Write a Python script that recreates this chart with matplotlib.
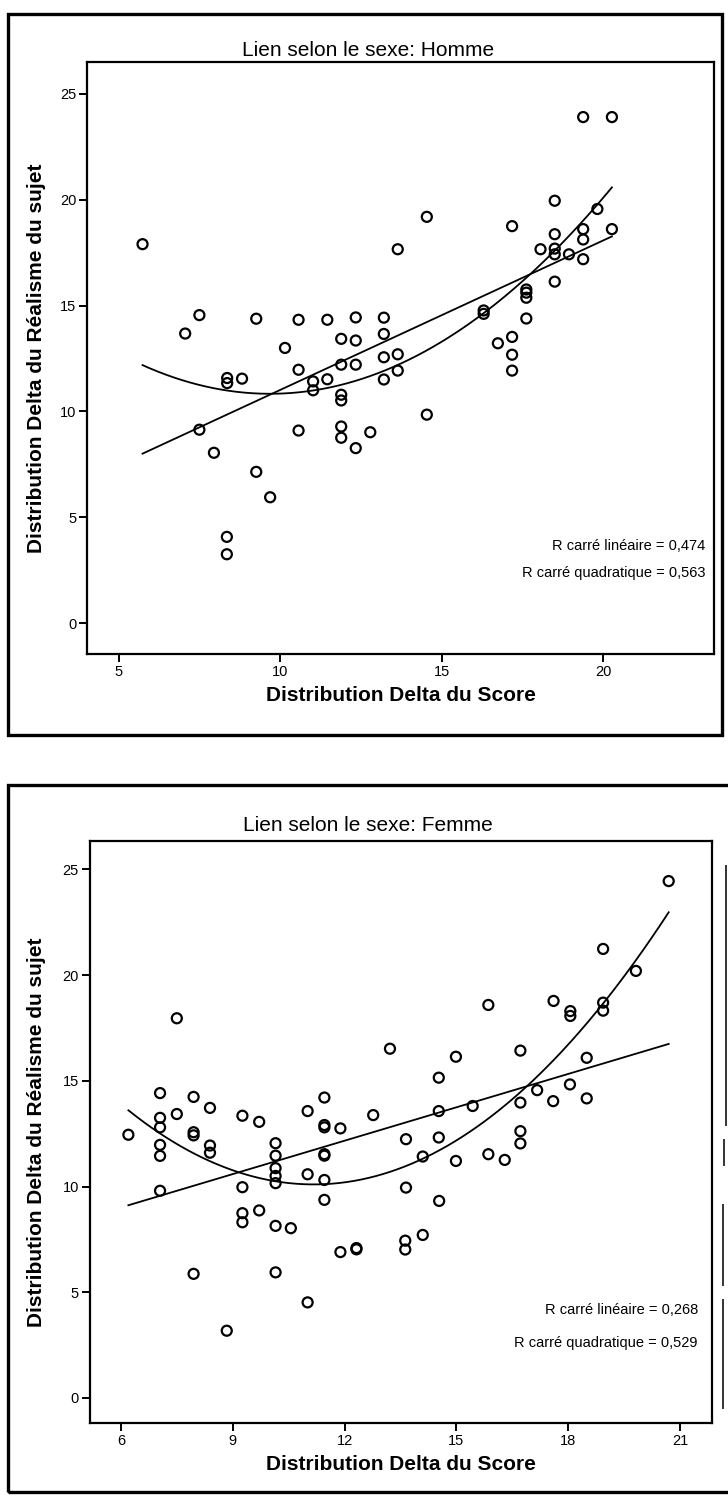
import numpy as np
import matplotlib
matplotlib.use("Agg")
import matplotlib.pyplot as plt
from matplotlib.patches import Rectangle
from matplotlib.lines import Line2D

plt.rcParams['font.family'] = ['Liberation Sans', 'DejaVu Sans']

# ---- data: men ----
homme_score = [5.74, 7.06, 7.50, 7.50, 7.95, 8.36, 8.36, 8.35, 8.35, 8.82,
               9.26, 9.26, 9.69, 10.15, 10.57, 10.57, 10.57, 11.02, 11.02, 11.46,
               11.46, 11.89, 11.89, 11.89, 11.89, 11.89, 11.89, 12.34, 12.34, 12.34,
               12.34, 12.79, 13.21, 13.21, 13.21, 13.21, 13.64, 13.64, 13.64, 14.54,
               14.54, 16.30, 16.30, 16.74, 17.18, 17.18, 17.18, 17.18, 17.62, 17.62,
               17.62, 17.62, 18.06, 18.50, 18.50, 18.50, 18.50, 18.50, 18.94, 19.38,
               19.38, 19.38, 19.38, 19.82, 20.27, 20.27]
homme_realisme = [17.90, 13.68, 14.55, 9.14, 8.05, 11.58, 11.34, 4.08, 3.26, 11.55,
                  14.38, 7.15, 5.95, 13.00, 14.33, 11.97, 9.10, 11.42, 11.00, 14.33,
                  11.52, 13.43, 12.21, 10.79, 10.52, 9.29, 8.76, 14.44, 13.35, 12.21,
                  8.27, 9.02, 14.43, 13.66, 12.56, 11.51, 17.66, 12.70, 11.93, 19.19,
                  9.85, 14.77, 14.61, 13.22, 18.75, 13.52, 12.68, 11.93, 15.76, 15.61,
                  15.37, 14.39, 17.66, 19.95, 18.37, 17.69, 17.42, 16.13, 17.42, 23.90,
                  18.61, 18.12, 17.19, 19.56, 23.90, 18.61]

# ---- data: women ----
femme_score = [6.20, 7.05, 7.05, 7.05, 7.05, 7.05, 7.05, 7.50, 7.50, 7.95,
               7.95, 7.95, 7.95, 8.39, 8.39, 8.39, 8.84, 9.26, 9.26, 9.26,
               9.26, 9.71, 9.71, 10.15, 10.15, 10.15, 10.15, 10.15, 10.15, 10.15,
               10.56, 11.01, 11.01, 11.01, 11.46, 11.46, 11.46, 11.46, 11.46, 11.46,
               11.46, 11.89, 11.89, 12.32, 12.32, 12.77, 13.22, 13.65, 13.65, 13.63,
               13.63, 14.10, 14.10, 14.53, 14.53, 14.53, 14.54, 14.99, 14.99, 15.44,
               15.86, 15.86, 16.30, 16.72, 16.72, 16.72, 16.72, 17.17, 17.61, 17.60,
               18.06, 18.06, 18.05, 18.50, 18.50, 18.94, 18.94, 18.94, 19.82, 20.70]
femme_realisme = [12.45, 14.42, 13.25, 12.80, 11.97, 11.45, 9.80, 17.96, 13.43, 14.24,
                  12.57, 12.42, 5.87, 13.72, 11.94, 11.60, 3.18, 13.35, 9.97, 8.74,
                  8.31, 13.06, 8.87, 12.05, 11.46, 10.87, 10.50, 10.16, 8.14, 5.94,
                  8.03, 13.57, 10.58, 4.52, 14.21, 12.91, 12.80, 11.53, 11.46, 10.31,
                  9.37, 12.75, 6.90, 7.09, 7.03, 13.38, 16.52, 12.24, 9.95, 7.44,
                  7.02, 11.42, 7.71, 15.15, 13.57, 12.32, 9.32, 16.14, 11.21, 13.81,
                  18.59, 11.53, 11.26, 16.43, 13.97, 12.62, 12.04, 14.56, 18.78, 14.04,
                  18.30, 18.07, 14.83, 16.09, 14.17, 21.24, 18.70, 18.32, 20.20, 24.45]

titles = ["Lien selon le sexe: Homme", "Lien selon le sexe: Femme"]
r2_labels = [("R carré linéaire = 0,474", "R carré quadratique = 0,563"),
             ("R carré linéaire = 0,268", "R carré quadratique = 0,529")]
x_ticks = [[5, 10, 15, 20], [6, 9, 12, 15, 18, 21]]
y_ticks = [0, 5, 10, 15, 20, 25]
x_label = "Distribution Delta du Score"
y_label = "Distribution Delta du Réalisme du sujet"

W, H = 728, 1499
fig = plt.figure(figsize=(W / 100, H / 100), dpi=100)
fig.patch.set_facecolor("white")


def fx(x):
    return x / W


def fy(y):
    return 1 - y / H


def add_panel(box, xlim, ylim, xs, ys, title, r2, xt, frame, r2_pos, title_y):
    l, r, t, b = box
    ax = fig.add_axes([fx(l), fy(b), fx(r) - fx(l), fy(t) - fy(b)])
    ax.scatter(xs, ys, s=52, facecolors="none", edgecolors="black",
               linewidths=1.6, zorder=3)
    xs_a = np.asarray(xs)
    ys_a = np.asarray(ys)
    grid = np.linspace(xs_a.min(), xs_a.max(), 300)
    # linear and quadratic least-squares fits
    for deg in (1, 2):
        coef = np.polyfit(xs_a, ys_a, deg)
        ax.plot(grid, np.polyval(coef, grid), color="black", lw=1.3, zorder=2)
    ax.set_xlim(*xlim)
    ax.set_ylim(*ylim)
    ax.set_xticks(xt)
    ax.set_yticks(y_ticks)
    ax.tick_params(axis="both", direction="out", length=6, width=1.4,
                   labelsize=10.5, pad=2, top=False, right=False)
    for s in ax.spines.values():
        s.set_linewidth(1.6)
    ax.set_xlabel(x_label, fontsize=15, fontweight="bold", labelpad=5)
    ax.set_ylabel(y_label, fontsize=15, fontweight="bold")
    ax.yaxis.set_label_coords(-(l - 46) / (r - l), 0.5)
    fig.text(fx(368), fy(title_y), title, ha="center", va="center", fontsize=15)
    (rx, ry1, ry2) = r2_pos
    fig.text(fx(rx), fy(ry1), r2[0], ha="right", va="center", fontsize=10.5)
    fig.text(fx(rx), fy(ry2), r2[1], ha="right", va="center", fontsize=10.5)
    fl, ft, fr, fb = frame
    fig.patches.append(Rectangle((fx(fl), fy(fb)), fx(fr) - fx(fl), fy(ft) - fy(fb),
                                 transform=fig.transFigure, fill=False,
                                 edgecolor="black", linewidth=2.4))
    return ax


add_panel((87.3, 714, 62, 654), (4.03, 23.43), (-1.45, 26.5),
          homme_score, homme_realisme, titles[0], r2_labels[0], x_ticks[0],
          (8, 14, 722, 735), (705, 545.7, 573), 51)

add_panel((90, 712.3, 840.7, 1423.3), (5.17, 21.87), (-1.2, 26.36),
          femme_score, femme_realisme, titles[1], r2_labels[1], x_ticks[1],
          (8, 785, 740, 1492), (698, 1310, 1343), 826)

# broken right edge of the lower frame
for xe, y0, y1 in [(726, 866, 1125), (724, 1140, 1165), (723, 1205, 1285),
                   (723, 1300, 1408)]:
    fig.lines.append(Line2D([fx(xe), fx(xe)], [fy(y0), fy(y1)],
                            transform=fig.transFigure, color="#333333", lw=1.4))

fig.savefig("out.png", dpi=100, facecolor="white")
